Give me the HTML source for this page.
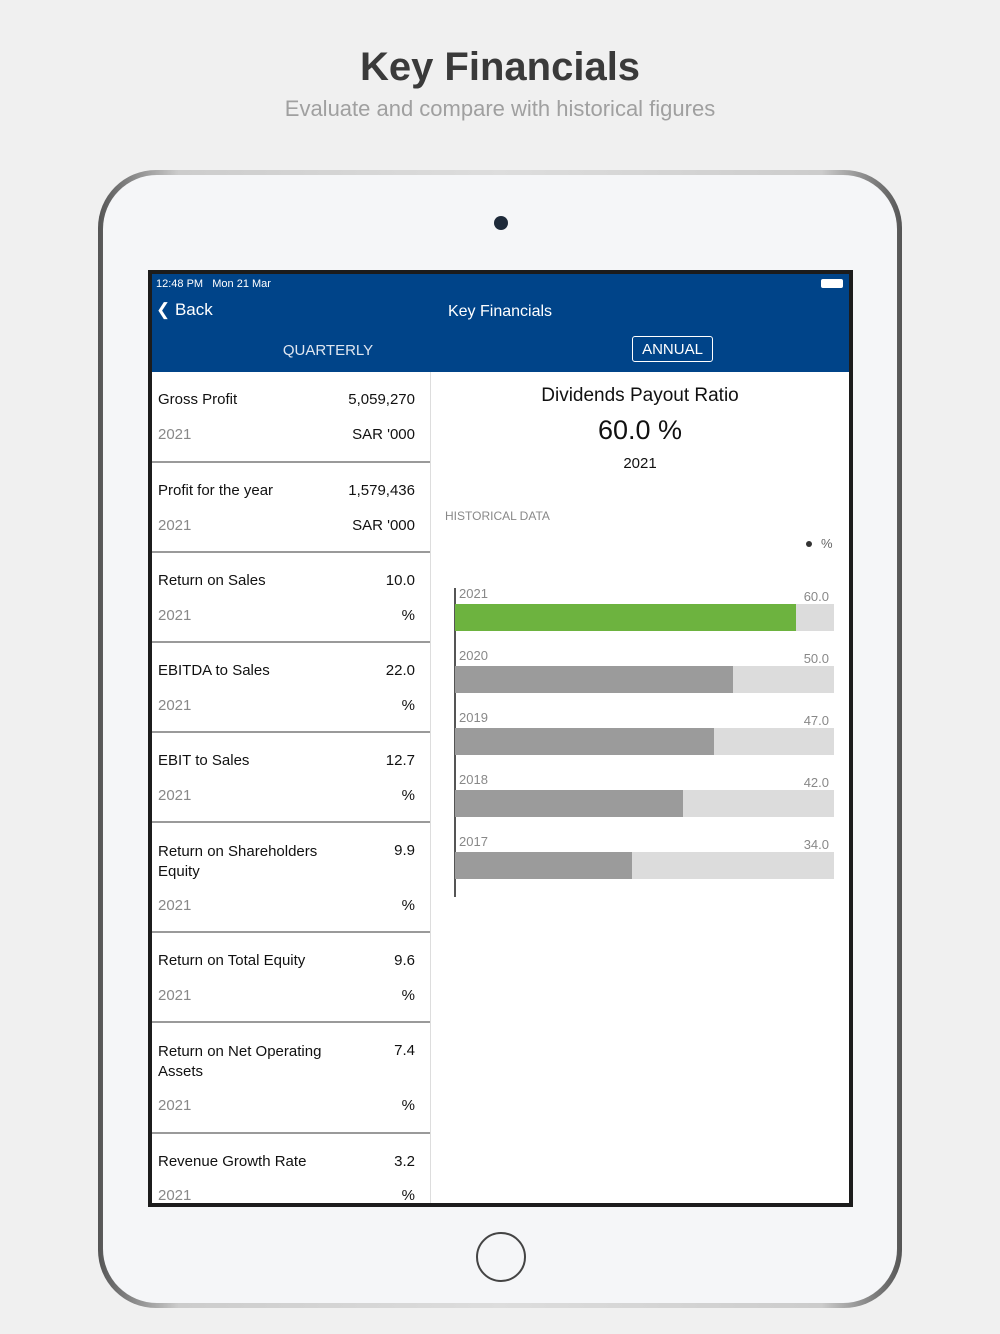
<!DOCTYPE html>
<html><head><meta charset="utf-8"><style>
*{margin:0;padding:0;box-sizing:border-box}
body{width:1000px;height:1334px;background:#f0f0f0;font-family:"Liberation Sans",sans-serif;position:relative;overflow:hidden}
.a{position:absolute}
.t{white-space:nowrap}
.row{position:absolute;left:152px;width:278px;border-bottom:2px solid #9a9a9a}
.lab{position:absolute;left:6px;font-size:15px;color:#111}
.val{position:absolute;right:15px;font-size:15px;color:#111}
.yr{position:absolute;left:6px;font-size:15px;color:#888}
.un{position:absolute;right:15px;font-size:15px;color:#111}
.yl{position:absolute;left:459px;font-size:13px;color:#888}
.vl{position:absolute;right:171px;font-size:13px;color:#888}
</style></head><body>
<div class="a t" style="left:0;width:1000px;top:45px;text-align:center;font-size:40px;font-weight:bold;color:#3a3a3a">Key Financials</div>
<div class="a t" style="left:0;width:1000px;top:96px;text-align:center;font-size:22px;color:#a0a0a0">Evaluate and compare with historical figures</div>
<div class="a" style="left:98px;top:170px;width:804px;height:1138px;border-radius:58px;background:linear-gradient(90deg,#555,#ccc 10%,#ddd 50%,#ccc 90%,#555);"></div>
<div class="a" style="left:103px;top:175px;width:794px;height:1128px;border-radius:54px;background:#f5f6f8"></div>
<div class="a" style="left:494px;top:216px;width:14px;height:14px;border-radius:50%;background:#1e2a3a"></div>
<div class="a" style="left:476px;top:1232px;width:50px;height:50px;border-radius:50%;border:2px solid #444"></div>
<div class="a" style="left:148px;top:270px;width:705px;height:937px;background:#1c1c1c"></div>
<div class="a" style="left:152px;top:274px;width:697px;height:929px;background:#fff"></div>
<div class="a" style="left:152px;top:274px;width:697px;height:98px;background:#004489"></div>
<div class="a t" style="left:156px;top:278px;font-size:11px;color:#fff">12:48 PM&nbsp;&nbsp; Mon 21 Mar</div>
<div class="a" style="left:821px;top:279px;width:22px;height:9px;border:1px solid #fff;border-radius:2px;background:#fff"></div>
<div class="a t" style="left:156px;top:300px;font-size:17px;color:#fff">&#x276E; Back</div>
<div class="a t" style="left:400px;width:200px;top:303px;text-align:center;font-size:16px;color:#fff">Key Financials</div>
<div class="a t" style="left:228px;width:200px;top:342px;text-align:center;font-size:15px;color:#dfe6f0">QUARTERLY</div>
<div class="a t" style="left:632px;top:336px;width:81px;height:26px;border:1px solid #fff;border-radius:3px;text-align:center;line-height:25px;font-size:15px;color:#fff">ANNUAL</div>
<div class="a" style="left:430px;top:372px;width:1px;height:831px;background:#ddd"></div>

<div class="row" style="top:372px;height:91px"><div class="lab" style="top:19px">Gross Profit</div><div class="val" style="top:19px">5,059,270</div><div class="yr" style="top:54px">2021</div><div class="un" style="top:54px">SAR '000</div></div>
<div class="row" style="top:463px;height:90px"><div class="lab" style="top:19px">Profit for the year</div><div class="val" style="top:19px">1,579,436</div><div class="yr" style="top:54px">2021</div><div class="un" style="top:54px">SAR '000</div></div>
<div class="row" style="top:553px;height:90px"><div class="lab" style="top:19px">Return on Sales</div><div class="val" style="top:19px">10.0</div><div class="yr" style="top:54px">2021</div><div class="un" style="top:54px">%</div></div>
<div class="row" style="top:643px;height:90px"><div class="lab" style="top:19px">EBITDA to Sales</div><div class="val" style="top:19px">22.0</div><div class="yr" style="top:54px">2021</div><div class="un" style="top:54px">%</div></div>
<div class="row" style="top:733px;height:90px"><div class="lab" style="top:19px">EBIT to Sales</div><div class="val" style="top:19px">12.7</div><div class="yr" style="top:54px">2021</div><div class="un" style="top:54px">%</div></div>
<div class="row" style="top:823px;height:110px"><div class="lab" style="top:19px;line-height:20px">Return on Shareholders<br>Equity</div><div class="val" style="top:19px">9.9</div><div class="yr" style="top:74px">2021</div><div class="un" style="top:74px">%</div></div>
<div class="row" style="top:933px;height:90px"><div class="lab" style="top:19px">Return on Total Equity</div><div class="val" style="top:19px">9.6</div><div class="yr" style="top:54px">2021</div><div class="un" style="top:54px">%</div></div>
<div class="row" style="top:1023px;height:111px"><div class="lab" style="top:19px;line-height:20px">Return on Net Operating<br>Assets</div><div class="val" style="top:19px">7.4</div><div class="yr" style="top:74px">2021</div><div class="un" style="top:74px">%</div></div>
<div class="row" style="top:1134px;height:69px;border:none"><div class="lab" style="top:19px">Revenue Growth Rate</div><div class="val" style="top:19px">3.2</div><div class="yr" style="top:53px">2021</div><div class="un" style="top:53px">%</div></div>

<div class="a t" style="left:431px;width:418px;top:385px;text-align:center;font-size:19px;color:#111">Dividends Payout Ratio</div>
<div class="a t" style="left:431px;width:418px;top:415px;text-align:center;font-size:27px;color:#111">60.0 %</div>
<div class="a t" style="left:431px;width:418px;top:455px;text-align:center;font-size:15px;color:#111">2021</div>
<div class="a t" style="left:445px;top:509px;font-size:12px;color:#888">HISTORICAL DATA</div>
<div class="a" style="left:806px;top:541px;width:6px;height:6px;border-radius:50%;background:#333"></div>
<div class="a t" style="left:821px;top:536px;font-size:13px;color:#666">%</div>
<div class="a" style="left:454px;top:588px;width:2px;height:309px;background:#555"></div>

<div class="yl t" style="top:586px">2021</div><div class="vl t" style="top:589px">60.0</div>
<div class="a" style="left:455px;top:604px;width:379px;height:27px;background:#dcdcdc"></div><div class="a" style="left:455px;top:604px;width:341px;height:27px;background:#6db33f"></div>
<div class="yl t" style="top:648px">2020</div><div class="vl t" style="top:651px">50.0</div>
<div class="a" style="left:455px;top:666px;width:379px;height:27px;background:#dcdcdc"></div><div class="a" style="left:455px;top:666px;width:278px;height:27px;background:#9b9b9b"></div>
<div class="yl t" style="top:710px">2019</div><div class="vl t" style="top:713px">47.0</div>
<div class="a" style="left:455px;top:728px;width:379px;height:27px;background:#dcdcdc"></div><div class="a" style="left:455px;top:728px;width:259px;height:27px;background:#9b9b9b"></div>
<div class="yl t" style="top:772px">2018</div><div class="vl t" style="top:775px">42.0</div>
<div class="a" style="left:455px;top:790px;width:379px;height:27px;background:#dcdcdc"></div><div class="a" style="left:455px;top:790px;width:228px;height:27px;background:#9b9b9b"></div>
<div class="yl t" style="top:834px">2017</div><div class="vl t" style="top:837px">34.0</div>
<div class="a" style="left:455px;top:852px;width:379px;height:27px;background:#dcdcdc"></div><div class="a" style="left:455px;top:852px;width:177px;height:27px;background:#9b9b9b"></div>
</body></html>
